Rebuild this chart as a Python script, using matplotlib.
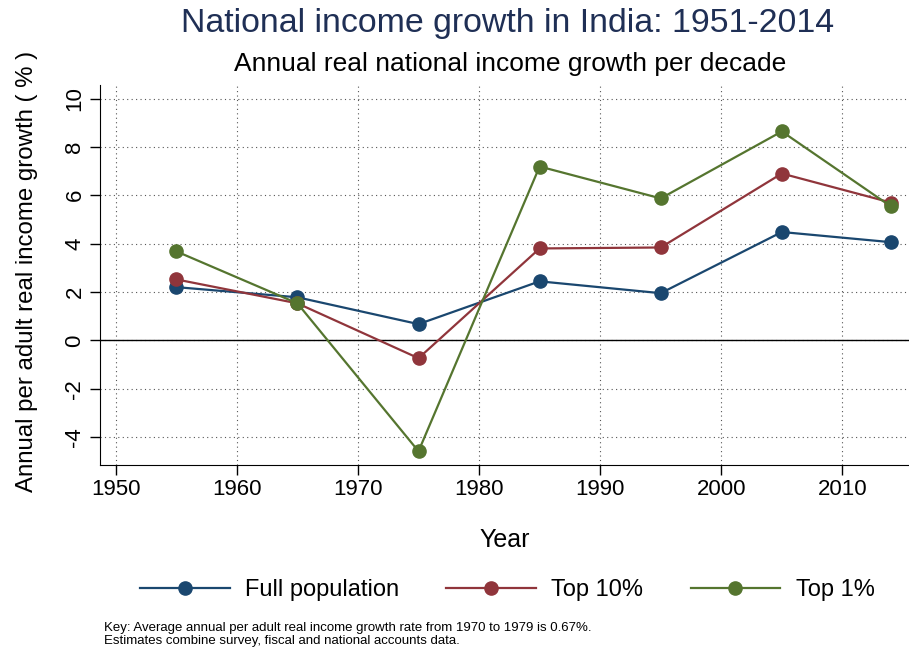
import matplotlib
matplotlib.use("Agg")
import matplotlib.pyplot as plt

# --- Data ---
years = [1955, 1965, 1975, 1985, 1995, 2005, 2014]
full_population = [2.2, 1.78, 0.67, 2.44, 1.95, 4.48, 4.06]
top_10 = [2.52, 1.53, -0.74, 3.8, 3.84, 6.9, 5.7]
top_1 = [3.68, 1.53, -4.59, 7.19, 5.87, 8.64, 5.54]
series_labels = ["Full population", "Top 10%", "Top 1%"]
x_ticks = [1950, 1960, 1970, 1980, 1990, 2000, 2010]
y_ticks = [-4, -2, 0, 2, 4, 6, 8, 10]

colors = ["#1a476f", "#90353b", "#55752f"]

plt.rcParams["font.family"] = ["Liberation Sans", "DejaVu Sans"]
plt.rcParams["axes.unicode_minus"] = False

fig = plt.figure(figsize=(9.09, 6.51), dpi=100)
ax = fig.add_axes([0.110, 0.286, 0.890, 0.583])

for vals, lab, c in zip([full_population, top_10, top_1], series_labels, colors):
    ax.plot(years, vals, color=c, lw=1.6, marker="o", ms=9.5, label=lab)

ax.axhline(0, color="black", lw=1.0, zorder=1)

ax.set_xlim(1948.7, 2015.5)
ax.set_ylim(-5.15, 10.55)
ax.set_xticks(x_ticks)
ax.set_yticks(y_ticks)
ax.grid(True, color="#555555", ls=(0, (1, 3)), lw=0.8)
ax.set_axisbelow(True)
for s in ["top", "right"]:
    ax.spines[s].set_visible(False)
ax.tick_params(direction="out", length=7, width=1, labelsize=16)
for t in ax.get_yticklabels():
    t.set_rotation(90)
    t.set_va("center")

ax.set_xlabel("Year", fontsize=18, labelpad=20)
ax.set_ylabel("Annual per adult real income growth ( % )", fontsize=17.3)
ax.yaxis.set_label_coords(-0.077, 0.51)

fig.text(0.558, 0.964, "National income growth in India: 1951-2014",
         ha="center", va="center", fontsize=24.4, color="#1f2f55")
fig.text(0.561, 0.902, "Annual real national income growth per decade",
         ha="center", va="center", fontsize=19, color="black")

fig.legend(loc="center", bbox_to_anchor=(0.558, 0.094), ncol=3, frameon=False,
           fontsize=17, handlelength=3.8, columnspacing=2.0, handletextpad=0.65)

fig.text(0.114, 0.025,
         "Key: Average annual per adult real income growth rate from 1970 to 1979 is 0.67%.\n"
         "Estimates combine survey, fiscal and national accounts data.",
         ha="left", va="center", fontsize=9.5, linespacing=1.1)

fig.savefig("out.png", dpi=100)
